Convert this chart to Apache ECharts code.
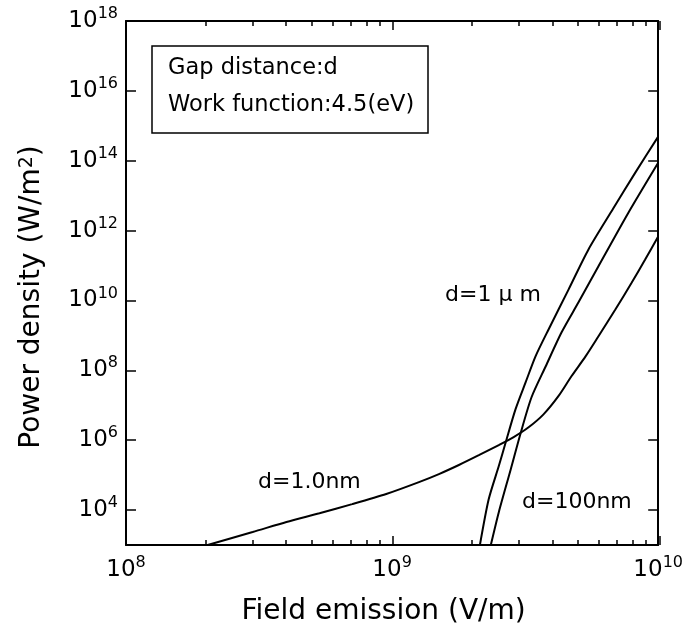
<!DOCTYPE html>
<html>
<head>
<meta charset="utf-8">
<script src="https://cdn.jsdelivr.net/npm/echarts@6/dist/echarts.min.js"></script>
<style>
  html, body { margin: 0; padding: 0; background: #fff; }
  #chart { width: 686px; height: 632px; }
</style>
</head>
<body>
<div id="chart"></div>
<script>
// values are read off the log-log plot, stored as exponents (log10)
// x: field emission (V/m), y: power density (W/m^2)
const xTickExp = [8, 9, 10];
const yTickExp = [4, 6, 8, 10, 12, 14, 16, 18];

const logE_1nm = [8.307, 8.476, 8.603, 8.727, 8.850, 8.978, 9.101, 9.176, 9.251, 9.326, 9.401, 9.457, 9.513, 9.569, 9.625, 9.674, 9.727, 9.775, 9.839, 9.899, 9.951, 10.0];
const logP_1nm = [3.0, 3.37, 3.66, 3.91, 4.17, 4.46, 4.80, 5.03, 5.29, 5.57, 5.86, 6.09, 6.37, 6.74, 7.26, 7.83, 8.40, 8.97, 9.74, 10.49, 11.17, 11.83];

const logE_1um = [9.330, 9.363, 9.401, 9.427, 9.464, 9.502, 9.539, 9.588, 9.663, 9.738, 9.831, 9.914, 10.0];
const logP_1um = [3.0, 4.31, 5.26, 5.94, 6.89, 7.66, 8.40, 9.17, 10.31, 11.46, 12.63, 13.66, 14.69];

const logE_100nm = [9.371, 9.401, 9.446, 9.483, 9.524, 9.577, 9.637, 9.700, 9.775, 9.888, 10.0];
const logP_100nm = [3.0, 3.94, 5.17, 6.20, 7.23, 8.11, 9.09, 9.94, 10.97, 12.51, 13.94];

const FONT = "DejaVu Sans";

// log-spaced minor tick positions (2..9 x 10^n) between the decades
let xMinorExp = [];
for (let n = 8; n < 10; n++) {
  for (let k = 2; k <= 9; k++) {
    xMinorExp.push(n + Math.log10(k));
  }
}

function pairs(xs, ys) {
  return xs.map((x, i) => [x, ys[i]]);
}

function powLabel(v) {
  return "10{s|" + Math.round(v) + "}";
}

const powLabelStyle = {
  fontSize: 23,
  fontFamily: FONT,
  color: "#000",
  lineHeight: 30,
  rich: {
    s: { fontSize: 16, fontFamily: FONT, color: "#000", verticalAlign: "top", lineHeight: 14 }
  }
};

const frameLine = { show: true, onZero: false, lineStyle: { color: "#000", width: 2 } };
const tickStyle = { color: "#000", width: 1.5 };
const gridBox = { left: 126, right: 26, top: 21, bottom: 87, containLabel: false };

let chart = echarts.init(document.getElementById("chart"));

const lineSeries = (name, data) => ({
  name: name,
  type: "line",
  data: data,
  xAxisIndex: 0,
  yAxisIndex: 0,
  symbol: "none",
  smooth: 0.25,
  clip: true,
  lineStyle: { color: "#000", width: 2 }
});

// grid 1 sits on top of grid 0 and only carries the longer decade ticks
const majorX = (pos) => ({
  type: "value",
  gridIndex: 1,
  position: pos,
  min: 8,
  max: 10,
  axisLine: { show: false },
  axisTick: { inside: true, length: 9, lineStyle: tickStyle, customValues: xTickExp },
  axisLabel: { show: false },
  splitLine: { show: false }
});

chart.setOption({
  animation: false,
  backgroundColor: "#fff",
  grid: [gridBox, gridBox],
  xAxis: [
    {
      type: "value",
      position: "bottom",
      min: 8,
      max: 10,
      axisLine: frameLine,
      axisTick: { inside: true, length: 5, lineStyle: tickStyle, customValues: xMinorExp },
      axisLabel: Object.assign({ customValues: xTickExp, formatter: powLabel, margin: 10 }, powLabelStyle),
      splitLine: { show: false },
      name: "Field emission (V/m)",
      nameLocation: "middle",
      nameGap: 53,
      nameTextStyle: { fontSize: 28, fontFamily: FONT, color: "#000", padding: [0, 17, 0, 0] }
    },
    {
      type: "value",
      position: "top",
      min: 8,
      max: 10,
      axisLine: frameLine,
      axisTick: { inside: true, length: 5, lineStyle: tickStyle, customValues: xMinorExp },
      axisLabel: { show: false },
      splitLine: { show: false }
    },
    majorX("bottom"),
    majorX("top")
  ],
  yAxis: [
    {
      type: "value",
      position: "left",
      min: 3,
      max: 18,
      axisLine: frameLine,
      axisTick: { inside: true, length: 10, lineStyle: tickStyle, customValues: yTickExp },
      axisLabel: Object.assign({ customValues: yTickExp, formatter: powLabel, margin: 8 }, powLabelStyle),
      splitLine: { show: false },
      name: "Power density (W/m{s|2})",
      nameLocation: "middle",
      nameRotate: 90,
      nameGap: 80,
      nameTextStyle: {
        fontSize: 28, fontFamily: FONT, color: "#000", padding: [0, 28, 0, 0],
        rich: { s: { fontSize: 19, fontFamily: FONT, color: "#000", verticalAlign: "top", lineHeight: 18 } }
      }
    },
    {
      type: "value",
      position: "right",
      min: 3,
      max: 18,
      axisLine: frameLine,
      axisTick: { inside: true, length: 10, lineStyle: tickStyle, customValues: yTickExp },
      axisLabel: { show: false },
      splitLine: { show: false }
    },
    {
      type: "value",
      gridIndex: 1,
      min: 3,
      max: 18,
      show: false
    }
  ],
  series: [
    lineSeries("d=1.0nm", pairs(logE_1nm, logP_1nm)),
    lineSeries("d=1μm", pairs(logE_1um, logP_1um)),
    lineSeries("d=100nm", pairs(logE_100nm, logP_100nm))
  ],
  graphic: [
    {
      type: "rect",
      shape: { x: 152, y: 46, width: 276, height: 87 },
      style: { fill: "#fff", stroke: "#000", lineWidth: 1.5 },
      z: 10
    },
    {
      type: "text",
      x: 168, y: 68, z: 11,
      style: { text: "Gap distance:d", font: "22.5px 'DejaVu Sans'", fill: "#000", verticalAlign: "middle" }
    },
    {
      type: "text",
      x: 168, y: 105, z: 11,
      style: { text: "Work function:4.5(eV)", font: "22.5px 'DejaVu Sans'", fill: "#000", verticalAlign: "middle" }
    },
    {
      type: "text",
      x: 258, y: 482, z: 11,
      style: { text: "d=1.0nm", font: "22px 'DejaVu Sans'", fill: "#000", verticalAlign: "middle" }
    },
    {
      type: "text",
      x: 445, y: 295, z: 11,
      style: { text: "d=1 μ m", font: "22px 'DejaVu Sans'", fill: "#000", verticalAlign: "middle" }
    },
    {
      type: "text",
      x: 522, y: 502, z: 11,
      style: { text: "d=100nm", font: "22px 'DejaVu Sans'", fill: "#000", verticalAlign: "middle" }
    }
  ]
});
</script>
</body>
</html>
